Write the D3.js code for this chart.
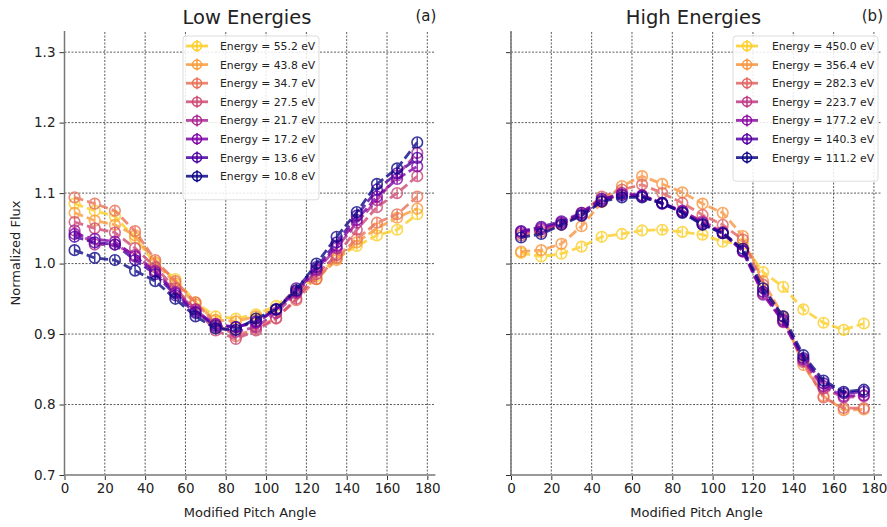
<!DOCTYPE html>
<html>
<head>
<meta charset="utf-8">
<script src="https://cdn.jsdelivr.net/npm/d3@7"></script>
<style>
  body { margin: 0; background: #fff; }
  text { font-family: "DejaVu Sans", Verdana, sans-serif; fill: #222; }
</style>
</head>
<body>
<script>
// pitch angle bins (centres)
const angles = [5, 15, 25, 35, 45, 55, 65, 75, 85, 95, 105, 115, 125, 135, 145, 155, 165, 175];

// low energy panel (a)
const lowLabels = ["55.2", "43.8", "34.7", "27.5", "21.7", "17.2", "13.6", "10.8"];
const lowFlux = [
  [1.085, 1.075, 1.067, 1.036, 1.000, 0.978, 0.945, 0.925, 0.922, 0.928, 0.940, 0.962, 0.982, 1.008, 1.025, 1.040, 1.048, 1.070],
  [1.072, 1.061, 1.055, 1.040, 1.002, 0.972, 0.942, 0.920, 0.918, 0.925, 0.935, 0.958, 0.978, 1.005, 1.030, 1.050, 1.065, 1.078],
  [1.094, 1.085, 1.075, 1.046, 1.005, 0.975, 0.945, 0.915, 0.897, 0.908, 0.923, 0.948, 0.978, 1.008, 1.035, 1.058, 1.070, 1.095],
  [1.059, 1.050, 1.044, 1.022, 0.995, 0.965, 0.935, 0.905, 0.893, 0.905, 0.922, 0.950, 0.985, 1.012, 1.048, 1.080, 1.100, 1.124],
  [1.047, 1.027, 1.027, 1.012, 0.990, 0.960, 0.935, 0.910, 0.903, 0.910, 0.930, 0.958, 0.990, 1.022, 1.058, 1.090, 1.125, 1.157],
  [1.042, 1.035, 1.031, 1.010, 0.988, 0.958, 0.932, 0.914, 0.910, 0.916, 0.935, 0.960, 0.992, 1.025, 1.062, 1.095, 1.120, 1.138],
  [1.038, 1.030, 1.027, 1.005, 0.985, 0.955, 0.930, 0.912, 0.910, 0.918, 0.935, 0.965, 0.995, 1.030, 1.068, 1.105, 1.128, 1.150],
  [1.019, 1.008, 1.005, 0.990, 0.975, 0.950, 0.925, 0.908, 0.906, 0.922, 0.935, 0.962, 1.000, 1.038, 1.073, 1.113, 1.135, 1.172]
];

// high energy panel (b)
const highLabels = ["450.0", "356.4", "282.3", "223.7", "177.2", "140.3", "111.2"];
const highFlux = [
  [1.015, 1.010, 1.014, 1.024, 1.038, 1.042, 1.047, 1.048, 1.045, 1.041, 1.031, 1.028, 0.988, 0.967, 0.935, 0.916, 0.906, 0.915],
  [1.017, 1.019, 1.028, 1.053, 1.087, 1.110, 1.124, 1.113, 1.101, 1.085, 1.072, 1.039, 0.975, 0.925, 0.856, 0.812, 0.792, 0.793],
  [1.040, 1.045, 1.055, 1.072, 1.095, 1.105, 1.112, 1.100, 1.086, 1.069, 1.055, 1.034, 0.970, 0.922, 0.860, 0.810, 0.795, 0.795],
  [1.043, 1.048, 1.057, 1.068, 1.088, 1.098, 1.095, 1.085, 1.074, 1.060, 1.045, 1.018, 0.958, 0.917, 0.862, 0.823, 0.810, 0.812],
  [1.045, 1.050, 1.058, 1.070, 1.090, 1.100, 1.097, 1.086, 1.075, 1.058, 1.044, 1.017, 0.956, 0.918, 0.864, 0.826, 0.812, 0.813],
  [1.046, 1.052, 1.060, 1.072, 1.092, 1.097, 1.096, 1.085, 1.073, 1.056, 1.043, 1.018, 0.960, 0.920, 0.866, 0.830, 0.816, 0.818],
  [1.037, 1.042, 1.055, 1.068, 1.088, 1.094, 1.094, 1.086, 1.072, 1.055, 1.043, 1.021, 0.965, 0.925, 0.870, 0.834, 0.818, 0.821]
];

// error bar half-height (flux units)
const fluxErr = 0.007;

const xTicks = [0, 20, 40, 60, 80, 100, 120, 140, 160, 180];
const yTicks = [0.7, 0.8, 0.9, 1.0, 1.1, 1.2, 1.3];

const W = 887, H = 527;
const svg = d3.select("body").append("svg").attr("width", W).attr("height", H);
svg.append("rect").attr("width", W).attr("height", H).attr("fill", "#fff");

const y = d3.scaleLinear().domain([0.7, 1.33]).range([475, 31]);

function plasmaColors(n) {
  // evenly spaced along plasma from 0.9 down to 0
  return d3.range(n).map(i => d3.interpolatePlasma(0.9 - 0.9 * i / (n - 1)));
}

function drawPanel(left, right, title, tag, labels, flux, showYLabels, legendBox) {
  const x = d3.scaleLinear().domain([0, 184]).range([left, right]);
  const colors = plasmaColors(labels.length);
  const g = svg.append("g");

  // grid
  g.selectAll(".vgrid").data(xTicks).enter().append("line")
    .attr("x1", d => x(d)).attr("x2", d => x(d))
    .attr("y1", y(0.7)).attr("y2", y(1.33))
    .attr("stroke", "#333").attr("stroke-width", 0.8).attr("stroke-dasharray", "2,1.5");
  g.selectAll(".hgrid").data(yTicks).enter().append("line")
    .attr("x1", left).attr("x2", right)
    .attr("y1", d => y(d)).attr("y2", d => y(d))
    .attr("stroke", "#333").attr("stroke-width", 0.8).attr("stroke-dasharray", "2,1.5");

  // axes
  const xAxis = g.append("g").attr("transform", "translate(0," + y(0.7) + ")")
    .call(d3.axisBottom(x).tickValues(xTicks).tickSize(5).tickPadding(3));
  const yAxis = g.append("g").attr("transform", "translate(" + left + ",0)")
    .call(d3.axisLeft(y).tickValues(yTicks).tickSize(5).tickPadding(4)
      .tickFormat(showYLabels ? d3.format(".1f") : () => ""));
  [xAxis, yAxis].forEach(a => {
    a.select(".domain").remove();
    a.selectAll(".tick line").attr("stroke", "#333").attr("stroke-width", 1);
    a.selectAll(".tick text").style("font-size", "13.5px").attr("fill", "#222");
  });
  // spines (left & bottom)
  g.append("line").attr("x1", left).attr("x2", right).attr("y1", y(0.7)).attr("y2", y(0.7))
    .attr("stroke", "#999").attr("stroke-width", 2);
  g.append("line").attr("x1", left).attr("x2", left).attr("y1", y(0.7)).attr("y2", y(1.33))
    .attr("stroke", "#777").attr("stroke-width", 1.5);

  // series
  const line = d3.line().x((d, i) => x(angles[i])).y(d => y(d));
  flux.forEach((vals, s) => {
    const sg = g.append("g").attr("opacity", 0.8);
    sg.append("path").datum(vals).attr("d", line)
      .attr("fill", "none").attr("stroke", colors[s]).attr("stroke-width", 2.8)
      .attr("stroke-dasharray", "9,4");
    sg.selectAll(".err").data(vals).enter().append("line")
      .attr("x1", (d, i) => x(angles[i])).attr("x2", (d, i) => x(angles[i]))
      .attr("y1", d => y(d - fluxErr)).attr("y2", d => y(d + fluxErr))
      .attr("stroke", colors[s]).attr("stroke-width", 1.5);
    sg.selectAll(".pt").data(vals).enter().append("circle")
      .attr("cx", (d, i) => x(angles[i])).attr("cy", d => y(d))
      .attr("r", 5.3).attr("fill", "none").attr("stroke", colors[s]).attr("stroke-width", 1.6);
  });

  // titles
  svg.append("text").attr("x", (left + right) / 2 - 3).attr("y", 24)
    .attr("text-anchor", "middle").style("font-size", "19.5px").text(title);
  svg.append("text").attr("x", right + 1).attr("y", 21)
    .attr("text-anchor", "end").style("font-size", "15px").text(tag);
  svg.append("text").attr("x", (left + right) / 2).attr("y", 517)
    .attr("text-anchor", "middle").style("font-size", "13px").text("Modified Pitch Angle");

  // legend
  const rowH = 18.6;
  const lg = svg.append("g").attr("transform", "translate(" + legendBox[0] + "," + legendBox[1] + ")");
  lg.append("rect").attr("width", legendBox[2]).attr("height", labels.length * rowH + 15)
    .attr("rx", 3).attr("fill", "#fff").attr("fill-opacity", 0.85)
    .attr("stroke", "#ddd").attr("stroke-width", 1);
  labels.forEach((lab, i) => {
    const cy = 10 + i * rowH;
    const hx = 3, hw = 22;
    lg.append("line").attr("x1", hx).attr("x2", hx + hw).attr("y1", cy).attr("y2", cy)
      .attr("stroke", colors[i]).attr("stroke-width", 2.8).attr("opacity", 0.85);
    lg.append("line").attr("x1", hx + hw / 2).attr("x2", hx + hw / 2).attr("y1", cy - 6).attr("y2", cy + 6)
      .attr("stroke", colors[i]).attr("stroke-width", 1.5);
    lg.append("circle").attr("cx", hx + hw / 2).attr("cy", cy).attr("r", 4.5)
      .attr("fill", "none").attr("stroke", colors[i]).attr("stroke-width", 1.5);
    lg.append("text").attr("x", legendBox[3]).attr("y", cy + 4)
      .style("font-size", "10.8px").text("Energy = " + lab + " eV");
  });
}

drawPanel(64.5, 435.4, "Low Energies", "(a)", lowLabels, lowFlux, true, [183, 36, 136, 37]);
drawPanel(511, 882, "High Energies", "(b)", highLabels, highFlux, false, [733, 36, 145, 39]);

svg.append("text").attr("transform", "translate(20,253) rotate(-90)")
  .attr("text-anchor", "middle").style("font-size", "13px").text("Normalized Flux");
</script>
</body>
</html>
